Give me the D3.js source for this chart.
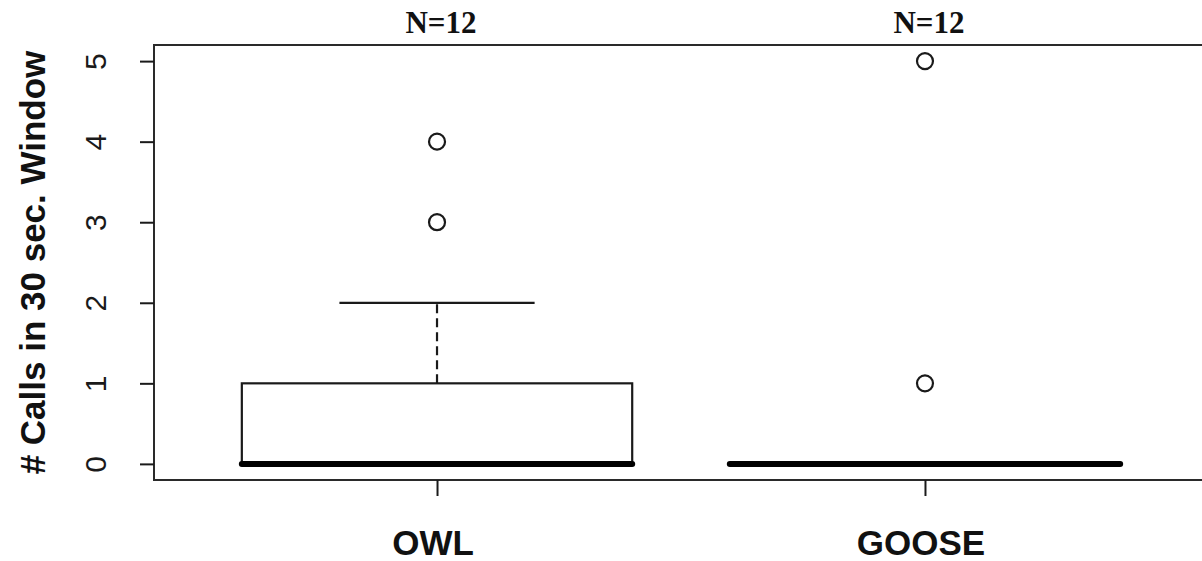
<!DOCTYPE html>
<html>
<head>
<meta charset="utf-8">
<script src="https://cdn.jsdelivr.net/npm/d3@7"></script>
<style>
  html, body { margin: 0; padding: 0; background: #fff; }
  svg { display: block; }
</style>
</head>
<body>
<svg id="chart" width="1202" height="561"></svg>
<script>
// ---- Data ----
const categories   = ["OWL", "GOOSE"];
const nLabels      = ["N=12", "N=12"];
const lowerWhisker = [0, 0];
const q1           = [0, 0];
const medians      = [0, 0];
const q3           = [1, 0];
const upperWhisker = [2, 0];
const outliers     = [[3, 4], [1, 5]];
const yTicks       = [0, 1, 2, 3, 4, 5];

// ---- Layout ----
const svg = d3.select("#chart");
const plot = { left: 154, right: 1208, top: 45, bottom: 480 };
const ink = "#1a1a1a";

// x: positions 1..n with R-style 4% extension of [0.5, n+0.5]
const n = categories.length;
const xr = [0.5, n + 0.5];
const xpad = (xr[1] - xr[0]) * 0.04;
const x = d3.scaleLinear().domain([xr[0] - xpad, xr[1] + xpad]).range([plot.left, plot.right]);

const yr = [0, 5];
const ypad = (yr[1] - yr[0]) * 0.04;
const y = d3.scaleLinear().domain([yr[0] - ypad, yr[1] + ypad]).range([plot.bottom, plot.top]);

const boxW = 0.8;   // in x units
const capW = 0.4;

// Plot frame (top, left, bottom; right edge is off-canvas)
svg.append("rect")
  .attr("x", plot.left).attr("y", plot.top)
  .attr("width", plot.right - plot.left).attr("height", plot.bottom - plot.top)
  .attr("fill", "none").attr("stroke", "#2a2a2a").attr("stroke-width", 2);

// Y axis
const yAxis = d3.axisLeft(y).tickValues(yTicks).tickSize(14).tickFormat(d3.format("d"));
const gy = svg.append("g").attr("transform", `translate(${plot.left},0)`).call(yAxis);
gy.select(".domain").remove();
gy.selectAll(".tick line").attr("stroke", ink).attr("stroke-width", 2);
gy.selectAll(".tick text")
  .attr("fill", ink)
  .attr("font-family", "'Liberation Sans', Arial, sans-serif")
  .attr("font-size", 30)
  .attr("text-anchor", "middle")
  .attr("dy", null)
  .attr("x", 0)
  .attr("transform", "translate(-59,0) rotate(-90)")
  .attr("dominant-baseline", "central");

// X axis
const xAxis = d3.axisBottom(x).tickValues(categories.map((c, i) => i + 1)).tickSize(16).tickFormat("");
const gx = svg.append("g").attr("transform", `translate(0,${plot.bottom})`).call(xAxis);
gx.select(".domain").remove();
gx.selectAll(".tick line").attr("stroke", ink).attr("stroke-width", 2);

// X category labels
svg.append("g").selectAll("text").data(categories).join("text")
  .attr("x", (d, i) => x(i + 1) - 4)
  .attr("y", 555)
  .attr("text-anchor", "middle")
  .attr("font-family", "'Liberation Sans', Arial, sans-serif")
  .attr("font-weight", "bold")
  .attr("font-size", 35)
  .attr("fill", "#111")
  .text(d => d);

// N labels at top
svg.append("g").selectAll("text").data(nLabels).join("text")
  .attr("x", (d, i) => x(i + 1) + 4)
  .attr("y", 33)
  .attr("text-anchor", "middle")
  .attr("font-family", "'Liberation Serif', 'Times New Roman', serif")
  .attr("font-weight", "bold")
  .attr("font-size", 31)
  .attr("fill", "#111")
  .text(d => d);

// Y axis title
svg.append("text")
  .attr("transform", `translate(45,${(plot.top + plot.bottom) / 2}) rotate(-90)`)
  .attr("text-anchor", "middle")
  .attr("font-family", "'Liberation Sans', Arial, sans-serif")
  .attr("font-weight", "bold")
  .attr("font-size", 35)
  .attr("fill", "#111")
  .text("# Calls in 30 sec. Window");

// Boxes
const g = svg.append("g");
categories.forEach((c, i) => {
  const cx = i + 1;
  // whiskers
  if (upperWhisker[i] > q3[i]) {
    g.append("line")
      .attr("x1", x(cx)).attr("x2", x(cx))
      .attr("y1", y(q3[i])).attr("y2", y(upperWhisker[i]))
      .attr("stroke", ink).attr("stroke-width", 2.2).attr("stroke-dasharray", "9,5");
    g.append("line")
      .attr("x1", x(cx - capW / 2)).attr("x2", x(cx + capW / 2))
      .attr("y1", y(upperWhisker[i])).attr("y2", y(upperWhisker[i]))
      .attr("stroke", ink).attr("stroke-width", 2.2);
  }
  if (lowerWhisker[i] < q1[i]) {
    g.append("line")
      .attr("x1", x(cx)).attr("x2", x(cx))
      .attr("y1", y(q1[i])).attr("y2", y(lowerWhisker[i]))
      .attr("stroke", ink).attr("stroke-width", 2.2).attr("stroke-dasharray", "9,5");
    g.append("line")
      .attr("x1", x(cx - capW / 2)).attr("x2", x(cx + capW / 2))
      .attr("y1", y(lowerWhisker[i])).attr("y2", y(lowerWhisker[i]))
      .attr("stroke", ink).attr("stroke-width", 2.2);
  }
  // box
  if (q3[i] > q1[i]) {
    g.append("rect")
      .attr("x", x(cx - boxW / 2)).attr("width", x(cx + boxW / 2) - x(cx - boxW / 2))
      .attr("y", y(q3[i])).attr("height", y(q1[i]) - y(q3[i]))
      .attr("fill", "#fff").attr("stroke", ink).attr("stroke-width", 2.2);
  }
  // median
  g.append("line")
    .attr("x1", x(cx - boxW / 2)).attr("x2", x(cx + boxW / 2))
    .attr("y1", y(medians[i])).attr("y2", y(medians[i]))
    .attr("stroke", "#000").attr("stroke-width", 6).attr("stroke-linecap", "round");
  // outliers
  g.selectAll(null).data(outliers[i]).join("circle")
    .attr("cx", x(cx)).attr("cy", d => y(d)).attr("r", 8)
    .attr("fill", "none").attr("stroke", ink).attr("stroke-width", 2.2);
});
</script>
</body>
</html>
